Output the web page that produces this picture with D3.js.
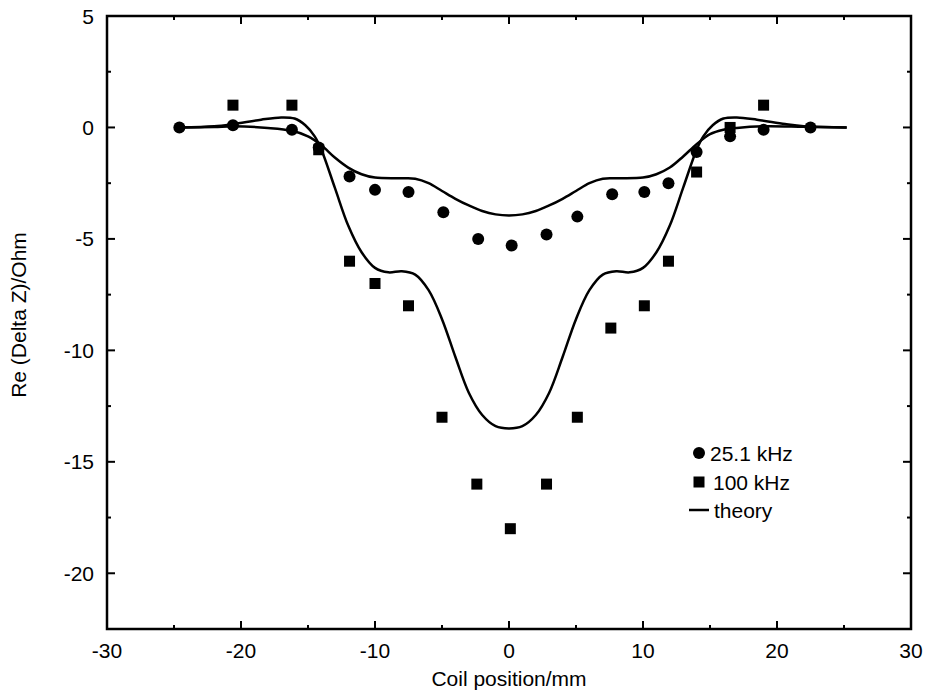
<!DOCTYPE html>
<html>
<head>
<meta charset="utf-8">
<script src="https://cdn.jsdelivr.net/npm/d3@7"></script>
<style>
  body { margin: 0; background: #fff; }
  text { font-family: "Liberation Sans", Arial, sans-serif; fill: #000; }
</style>
</head>
<body>
<script>
// measured 25.1 kHz points
let pos25 = [-24.6, -20.6, -16.2, -14.2, -11.9, -10.0, -7.5, -4.9, -2.3, 0.2, 2.8, 5.1, 7.7, 10.1, 11.9, 14.0, 16.5, 19.0, 22.5];
let val25 = [0, 0.1, -0.1, -0.9, -2.2, -2.8, -2.9, -3.8, -5.0, -5.3, -4.8, -4.0, -3.0, -2.9, -2.5, -1.1, -0.4, -0.1, 0];

// measured 100 kHz points
let pos100 = [-20.6, -16.2, -14.2, -11.9, -10.0, -7.5, -5.0, -2.4, 0.1, 2.8, 5.1, 7.6, 10.1, 11.9, 14.0, 16.5, 19.0];
let val100 = [1, 1, -1, -6, -7, -8, -13, -16, -18, -16, -13, -9, -8, -6, -2, 0, 1];

// theory curves
let thX25 = [-24.6, -22, -20.6, -18, -16.2, -15, -14, -13, -12, -11, -10, -8, -7, -6, -5, -4, -3, -2, -1, 0, 1, 2, 3, 4, 5, 6, 7, 8, 10, 11, 12, 13, 14, 15, 16, 17, 19, 22, 25.2];
let thY25 = [0, 0.02, 0.05, -0.02, -0.15, -0.4, -0.8, -1.35, -1.8, -2.1, -2.25, -2.28, -2.3, -2.5, -2.85, -3.2, -3.5, -3.75, -3.9, -3.95, -3.9, -3.75, -3.5, -3.2, -2.85, -2.5, -2.3, -2.28, -2.25, -2.1, -1.8, -1.3, -0.75, -0.3, -0.1, -0.02, 0.05, 0.03, 0];

let thX100 = [-24.6, -22, -20.6, -18.5, -17, -16, -15.2, -14.5, -14, -13, -12, -11, -10, -9, -8, -7, -6, -5, -4, -3, -2, -1, 0, 1, 2, 3, 4, 5, 6, 7, 8, 9, 10, 11, 12, 13, 14, 14.5, 15.2, 16, 17, 18.5, 20.6, 22, 25.2];
let thY100 = [0, 0.05, 0.15, 0.35, 0.45, 0.4, 0.1, -0.4, -1.0, -2.7, -4.4, -5.6, -6.3, -6.5, -6.45, -6.6, -7.3, -8.6, -10.3, -11.9, -12.9, -13.4, -13.5, -13.4, -12.9, -11.9, -10.3, -8.6, -7.3, -6.6, -6.45, -6.5, -6.3, -5.6, -4.4, -2.7, -1.0, -0.4, 0.1, 0.4, 0.45, 0.35, 0.15, 0.05, 0];

let xTicks = [-30, -20, -10, 0, 10, 20, 30];
let yTicks = [5, 0, -5, -10, -15, -20];
let legendLabels = ['25.1 kHz', '100 kHz', 'theory'];

let W = 926, H = 694;
let m = { left: 107, right: 911, top: 16, bottom: 629 };

let svg = d3.select('body').append('svg').attr('width', W).attr('height', H);

let x = d3.scaleLinear().domain([-30, 30]).range([m.left, m.right]);
let y = d3.scaleLinear().domain([-22.5, 5]).range([m.bottom, m.top]);

// ticks on all four sides, pointing inward
let xMinor = d3.range(-25, 30, 10);
let yMinor = d3.range(2.5, -22.5, -5);
let tickG = svg.append('g').attr('stroke', '#000').attr('stroke-width', 2);

function vTicks(vals, len) {
  vals.forEach(v => {
    tickG.append('line').attr('x1', x(v)).attr('x2', x(v)).attr('y1', m.bottom).attr('y2', m.bottom - len);
    tickG.append('line').attr('x1', x(v)).attr('x2', x(v)).attr('y1', m.top).attr('y2', m.top + len);
  });
}
function hTicks(vals, len) {
  vals.forEach(v => {
    tickG.append('line').attr('y1', y(v)).attr('y2', y(v)).attr('x1', m.left).attr('x2', m.left + len);
    tickG.append('line').attr('y1', y(v)).attr('y2', y(v)).attr('x1', m.right).attr('x2', m.right - len);
  });
}
vTicks(xTicks, 8);
vTicks(xMinor, 4);
hTicks(yTicks, 8);
hTicks(yMinor, 4);

svg.append('rect')
  .attr('x', m.left).attr('y', m.top)
  .attr('width', m.right - m.left).attr('height', m.bottom - m.top)
  .attr('fill', 'none').attr('stroke', '#000').attr('stroke-width', 2.5);

svg.selectAll('text.xt').data(xTicks).enter().append('text')
  .attr('class', 'xt')
  .attr('x', d => x(d)).attr('y', 658)
  .attr('text-anchor', 'middle').attr('font-size', 21)
  .text(d => d);

svg.selectAll('text.yt').data(yTicks).enter().append('text')
  .attr('class', 'yt')
  .attr('x', 94).attr('y', d => y(d) + 7.5)
  .attr('text-anchor', 'end').attr('font-size', 21)
  .text(d => d);

svg.append('text')
  .attr('x', 509).attr('y', 686)
  .attr('text-anchor', 'middle').attr('font-size', 21)
  .text('Coil position/mm');

svg.append('text')
  .attr('transform', 'translate(26,315) rotate(-90)')
  .attr('text-anchor', 'middle').attr('font-size', 21)
  .text('Re (Delta Z)/Ohm');

// theory lines
let line = d3.line().x(d => x(d[0])).y(d => y(d[1])).curve(d3.curveCatmullRom);
[[thX25, thY25], [thX100, thY100]].forEach(([xs, ys]) => {
  svg.append('path')
    .datum(xs.map((v, i) => [v, ys[i]]))
    .attr('d', line)
    .attr('fill', 'none').attr('stroke', '#000').attr('stroke-width', 2.5);
});

// squares
svg.selectAll('rect.sq').data(pos100.map((v, i) => [v, val100[i]])).enter().append('rect')
  .attr('class', 'sq')
  .attr('x', d => x(d[0]) - 5.5).attr('y', d => y(d[1]) - 5.5)
  .attr('width', 11).attr('height', 11).attr('fill', '#000');

// circles
svg.selectAll('circle.c').data(pos25.map((v, i) => [v, val25[i]])).enter().append('circle')
  .attr('class', 'c')
  .attr('cx', d => x(d[0])).attr('cy', d => y(d[1]))
  .attr('r', 6).attr('fill', '#000');

// legend
let lg = svg.append('g');
let rowY = [453, 482, 510];
lg.append('circle').attr('cx', 699).attr('cy', rowY[0]).attr('r', 6);
lg.append('rect').attr('x', 693.5).attr('y', rowY[1] - 5.5).attr('width', 11).attr('height', 11);
lg.append('line').attr('x1', 689).attr('x2', 709).attr('y1', rowY[2]).attr('y2', rowY[2])
  .attr('stroke', '#000').attr('stroke-width', 2.5);
lg.selectAll('text').data(legendLabels).enter().append('text')
  .attr('x', (d, i) => [710, 713, 714][i]).attr('y', (d, i) => rowY[i] + 7.5)
  .attr('font-size', 21)
  .text(d => d);
</script>
</body>
</html>
